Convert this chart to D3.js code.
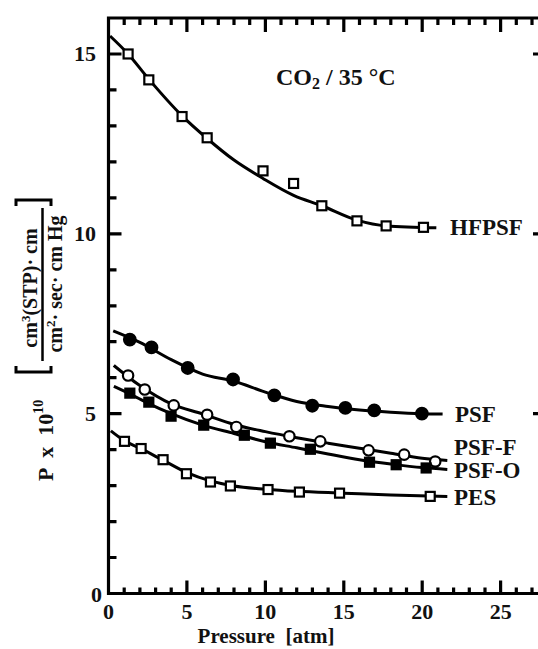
<!DOCTYPE html>
<html>
<head>
<meta charset="utf-8">
<script src="https://cdn.jsdelivr.net/npm/d3@7"></script>
<style>
  html, body { margin: 0; padding: 0; background: #fff; }
  svg { display: block; }
  text { font-family: "Liberation Serif", "DejaVu Serif", serif; font-weight: bold; fill: #111; }
</style>
</head>
<body>
<svg id="chart" width="538" height="649"></svg>
<script>
// ---- data ----
const xTicks = [0, 5, 10, 15, 20, 25];
const yTicks = [0, 5, 10, 15];
const xMinor = [1, 2, 3, 4, 6, 7, 8, 9, 11, 12, 13, 14, 16, 17, 18, 19, 21, 22, 23, 24, 26, 27];
const yMinor = [1, 2, 3, 4, 6, 7, 8, 9, 11, 12, 13, 14];
const xTitle = "Pressure  [atm]";

const seriesNames = ["HFPSF", "PSF", "PSF-F", "PSF-O", "PES"];

const pHFPSF = [1.25, 2.57, 4.69, 6.29, 9.85, 11.8, 13.6, 15.84, 17.7, 20.08];
const vHFPSF = [15.0, 14.28, 13.26, 12.67, 11.75, 11.40, 10.78, 10.36, 10.22, 10.18];

const pPSF = [1.36, 2.74, 5.05, 7.94, 10.57, 12.99, 15.1, 16.94, 19.98];
const vPSF = [7.06, 6.84, 6.27, 5.95, 5.51, 5.22, 5.16, 5.09, 5.0];

const pPSFF = [1.25, 2.31, 4.16, 6.29, 8.15, 11.53, 13.5, 16.58, 18.85, 20.83];
const vPSFF = [6.06, 5.67, 5.23, 4.97, 4.63, 4.37, 4.23, 3.98, 3.86, 3.67];

const pPSFO = [1.36, 2.57, 3.99, 6.07, 8.66, 10.32, 12.87, 16.64, 18.34, 20.25];
const vPSFO = [5.57, 5.32, 4.93, 4.68, 4.40, 4.18, 4.01, 3.65, 3.58, 3.49];

const pPES = [1.02, 2.08, 3.48, 4.97, 6.5, 7.77, 10.17, 12.17, 14.73, 20.51];
const vPES = [4.23, 4.03, 3.72, 3.33, 3.10, 2.99, 2.89, 2.82, 2.79, 2.70];

// fitted curves drawn in the reference
const fitPHFPSF = [0.1, 1.25, 2.57, 4.69, 6.29, 8, 9.85, 11.8, 13.6, 15.84, 17.7, 20.9];
const fitVHFPSF = [15.5, 15.0, 14.3, 13.28, 12.65, 12.05, 11.54, 11.07, 10.78, 10.38, 10.22, 10.17];
const fitPPSF = [0.3, 2, 4, 6, 8, 10, 12, 14, 16, 18, 20, 21.3];
const fitVPSF = [7.3, 6.98, 6.5, 6.1, 5.9, 5.6, 5.34, 5.2, 5.1, 5.04, 5.0, 4.99];
const fitPPSFF = [0.34, 2, 4, 6, 8, 10, 12, 14, 16, 18, 20, 21.6];
const fitVPSFF = [6.34, 5.78, 5.27, 4.99, 4.7, 4.5, 4.33, 4.18, 4.04, 3.9, 3.76, 3.7];
const fitPPSFO = [0.34, 1.36, 2.57, 4, 6, 8, 10, 12, 14, 16, 18, 20, 21.6];
const fitVPSFO = [5.76, 5.55, 5.28, 5.0, 4.68, 4.45, 4.22, 4.05, 3.88, 3.72, 3.6, 3.5, 3.45];
const fitPPES = [0.15, 1, 2, 3.5, 5, 6.5, 8, 10, 12, 15, 18, 21.6];
const fitVPES = [4.52, 4.25, 4.04, 3.7, 3.36, 3.13, 2.99, 2.9, 2.84, 2.79, 2.74, 2.7];

(function () {
const svg = d3.select("#chart");
const mLeft = 108.5, mRight = 543, mTop = 18, mBottom = 593.5;
const x = d3.scaleLinear().domain([0, 27.7]).range([mLeft, mRight]);
const y = d3.scaleLinear().domain([0, 16]).range([mBottom, mTop]);
const ink = "#000";

const zip = (a, b) => a.map((d, i) => [d, b[i]]);
const series = [
  { name: "HFPSF", pts: zip(pHFPSF, vHFPSF), fit: zip(fitPHFPSF, fitVHFPSF), sym: "sq", fill: false },
  { name: "PSF", pts: zip(pPSF, vPSF), fit: zip(fitPPSF, fitVPSF), sym: "ci", fill: true },
  { name: "PSF-F", pts: zip(pPSFF, vPSFF), fit: zip(fitPPSFF, fitVPSFF), sym: "ci", fill: false },
  { name: "PSF-O", pts: zip(pPSFO, vPSFO), fit: zip(fitPPSFO, fitVPSFO), sym: "sq", fill: true },
  { name: "PES", pts: zip(pPES, vPES), fit: zip(fitPPES, fitVPES), sym: "sq", fill: false }
];

// ---- frame + inward ticks in one path, built from the scales ----
const r2 = v => Math.round(v * 10) / 10;
function tickPath(len, vals, axis) {
  return vals.map(d => {
    if (axis === "b") return "M" + r2(x(d)) + "," + r2(mBottom) + "V" + r2(mBottom - len);
    if (axis === "t") return "M" + r2(x(d)) + "," + r2(mTop) + "V" + r2(mTop + len);
    if (axis === "l") return "M" + r2(mLeft) + "," + r2(y(d)) + "H" + r2(mLeft + len);
    return "M" + r2(mRight) + "," + r2(y(d)) + "H" + r2(mRight - len);
  }).join(" ");
}
const frameD = "M" + r2(x(0)) + "," + r2(y(0)) + "H" + r2(x(27.7)) + "V" + r2(y(16)) + "H" + r2(x(0)) + "Z";
const fullD = [frameD,
  tickPath(13, xTicks, "b"), tickPath(6, xMinor, "b"),
  tickPath(14, xTicks, "t"), tickPath(7, xMinor, "t"),
  tickPath(13, yTicks, "l"), tickPath(8, yMinor, "l"),
  tickPath(10, yTicks, "r"), tickPath(4, yMinor, "r")
].join(" ");
svg.append("path").attr("d", fullD)
  .attr("fill", "none").attr("stroke", ink).attr("stroke-width", 3.2);

// tick labels
svg.append("g").selectAll("text").data(xTicks).join("text")
  .attr("x", d => x(d)).attr("y", 619)
  .attr("text-anchor", "middle").attr("font-size", 22)
  .text(d => d);
svg.append("g").selectAll("text").data(yTicks).join("text")
  .attr("x", d => d === 0 ? 102 : 96).attr("y", d => y(d) + (d === 0 ? 8.5 : 7.5))
  .attr("text-anchor", "end").attr("font-size", 22)
  .text(d => d);

// x title
svg.append("text").attr("x", 266).attr("y", 643)
  .attr("text-anchor", "middle").attr("font-size", 21)
  .style("white-space", "pre").text(xTitle);

// y title (rotated)
const yt = svg.append("g").attr("transform", "rotate(-90)");
const t1 = yt.append("text").attr("x", -481).attr("y", 53).attr("font-size", 22).style("white-space", "pre");
t1.append("tspan").text("P  x  10");
t1.append("tspan").attr("font-size", 14).attr("dy", -10).text("10");
const brk = d3.path();
function bracket(p, yA, dir) {
  p.moveTo(yA + dir * 6, 16); p.lineTo(yA, 16); p.lineTo(yA, 51); p.lineTo(yA + dir * 6, 51);
}
bracket(brk, -372, 1);
bracket(brk, -200, -1);
yt.append("path").attr("d", brk.toString()).attr("fill", "none").attr("stroke", ink).attr("stroke-width", 3);
const num = yt.append("text").attr("x", -288).attr("y", 37).attr("text-anchor", "middle")
  .attr("font-size", 20).style("white-space", "pre");
num.append("tspan").text("cm");
num.append("tspan").attr("font-size", 13).attr("dy", -7).text("3");
num.append("tspan").attr("dy", 7).text("(STP)· cm");
yt.append("line").attr("x1", -361).attr("x2", -208).attr("y1", 42.5).attr("y2", 42.5).attr("stroke", ink).attr("stroke-width", 2.5);
const den = yt.append("text").attr("x", -284).attr("y", 62).attr("text-anchor", "middle")
  .attr("font-size", 20).style("white-space", "pre");
den.append("tspan").text("cm");
den.append("tspan").attr("font-size", 13).attr("dy", -7).text("2");
den.append("tspan").attr("dy", 7).text("· sec· cm Hg");

// chart title
const tt = svg.append("text").attr("x", 276).attr("y", 85).attr("font-size", 24).style("white-space", "pre");
tt.append("tspan").text("CO");
tt.append("tspan").attr("font-size", 16).attr("dy", 4).text("2");
tt.append("tspan").attr("dy", -4).text(" / 35 °C");

// ---- curves and markers ----
const line = d3.line().x(d => x(d[0])).y(d => y(d[1])).curve(d3.curveMonotoneX);
const plot = svg.append("g");
series.forEach(s => {
  plot.append("path").attr("d", line(s.fit)).attr("fill", "none").attr("stroke", ink).attr("stroke-width", 3);
  const g = plot.append("g");
  if (s.sym === "sq") {
    g.selectAll("rect").data(s.pts).join("rect")
      .attr("x", d => x(d[0]) - 4.5).attr("y", d => y(d[1]) - 4.5)
      .attr("width", 9).attr("height", 9)
      .attr("fill", s.fill ? ink : "#fff").attr("stroke", ink).attr("stroke-width", 2.2);
  } else {
    g.selectAll("circle").data(s.pts).join("circle")
      .attr("cx", d => x(d[0])).attr("cy", d => y(d[1])).attr("r", s.fill ? 5.8 : 5.2)
      .attr("fill", s.fill ? ink : "#fff").attr("stroke", ink).attr("stroke-width", 2.2);
  }
});

// series labels
const labelPos = { "HFPSF": [450, 235], "PSF": [455, 422], "PSF-F": [454, 455], "PSF-O": [454, 478], "PES": [454, 505] };
svg.append("g").selectAll("text").data(seriesNames).join("text")
  .attr("x", d => labelPos[d][0]).attr("y", d => labelPos[d][1])
  .attr("font-size", 23).text(d => d);
})();
</script>
</body>
</html>
